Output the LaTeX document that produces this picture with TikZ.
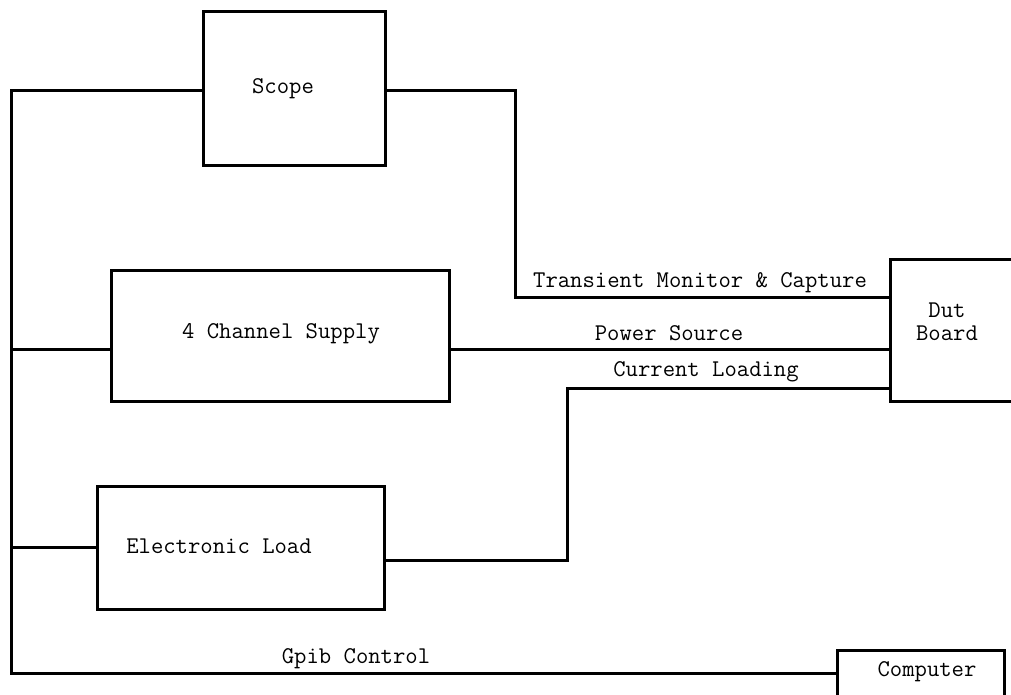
\documentclass[tikz,border=0pt]{standalone}
\begin{document}
\begin{tikzpicture}[x=1pt,y=-1pt,
  box/.style={draw,line width=3pt,rectangle,inner sep=0pt,outer sep=0pt},
  wire/.style={line width=3pt,line join=miter},
  lbl/.style={font=\ttfamily\fontsize{24}{27}\selectfont,inner sep=0pt,anchor=center}]
\useasboundingbox (0,0) rectangle (1011,695);
% boxes
\node[box,minimum width=182pt,minimum height=154pt] (scope) at (294,89) {};
\node[box,minimum width=338pt,minimum height=131pt] (supply) at (280,335.5) {};
\node[box,minimum width=287pt,minimum height=123pt] (load) at (240.5,547.5) {};
\node[box,minimum width=150pt,minimum height=142pt] (dut) at (965,330) {};
\node[box,minimum width=167pt,minimum height=70pt] (computer) at (920.5,685) {};
% labels
\node[lbl] (tscope) at (283,89) {Scope};
\node[lbl] (tsupply) at (281,334) {4 Channel Supply};
\node[lbl] (tload) at (219,546) {Electronic Load};
\node[lbl,align=center] (tdut) at (947,322) {Dut\\[-4pt]Board};
\node[lbl] (tcomp) at (927,672) {Computer};
\node[lbl] (ttrans) at (700,283) {Transient Monitor \& Capture};
\node[lbl] (tpower) at (669,333) {Power Source};
\node[lbl] (tcur) at (706,372) {Current Loading};
\node[lbl] (tgpib) at (356,659) {Gpib Control};
% bus
\coordinate (bt) at (11,91);
\coordinate (bb) at (11,673);
\coordinate (j1) at (515,91);
\coordinate (j2) at (515,297);
\coordinate (k1) at (567,560);
\coordinate (k2) at (567,388);
\draw[wire] (scope.west |- bt) -- (bt) -- (bb) -- (computer.west |- bb);
\draw[wire] (bt |- 0,349) -- (supply.west |- 0,349);
\draw[wire] (bt |- load.west) -- (load.west);
\draw[wire] (scope.east |- bt) -- (j1) -- (j2) -- (dut.west |- j2);
\draw[wire] (supply.east |- 0,349) -- (dut.west |- 0,349);
\draw[wire] (load.east |- k1) -- (k1) -- (k2) -- (dut.west |- k2);
\end{tikzpicture}
\end{document}
